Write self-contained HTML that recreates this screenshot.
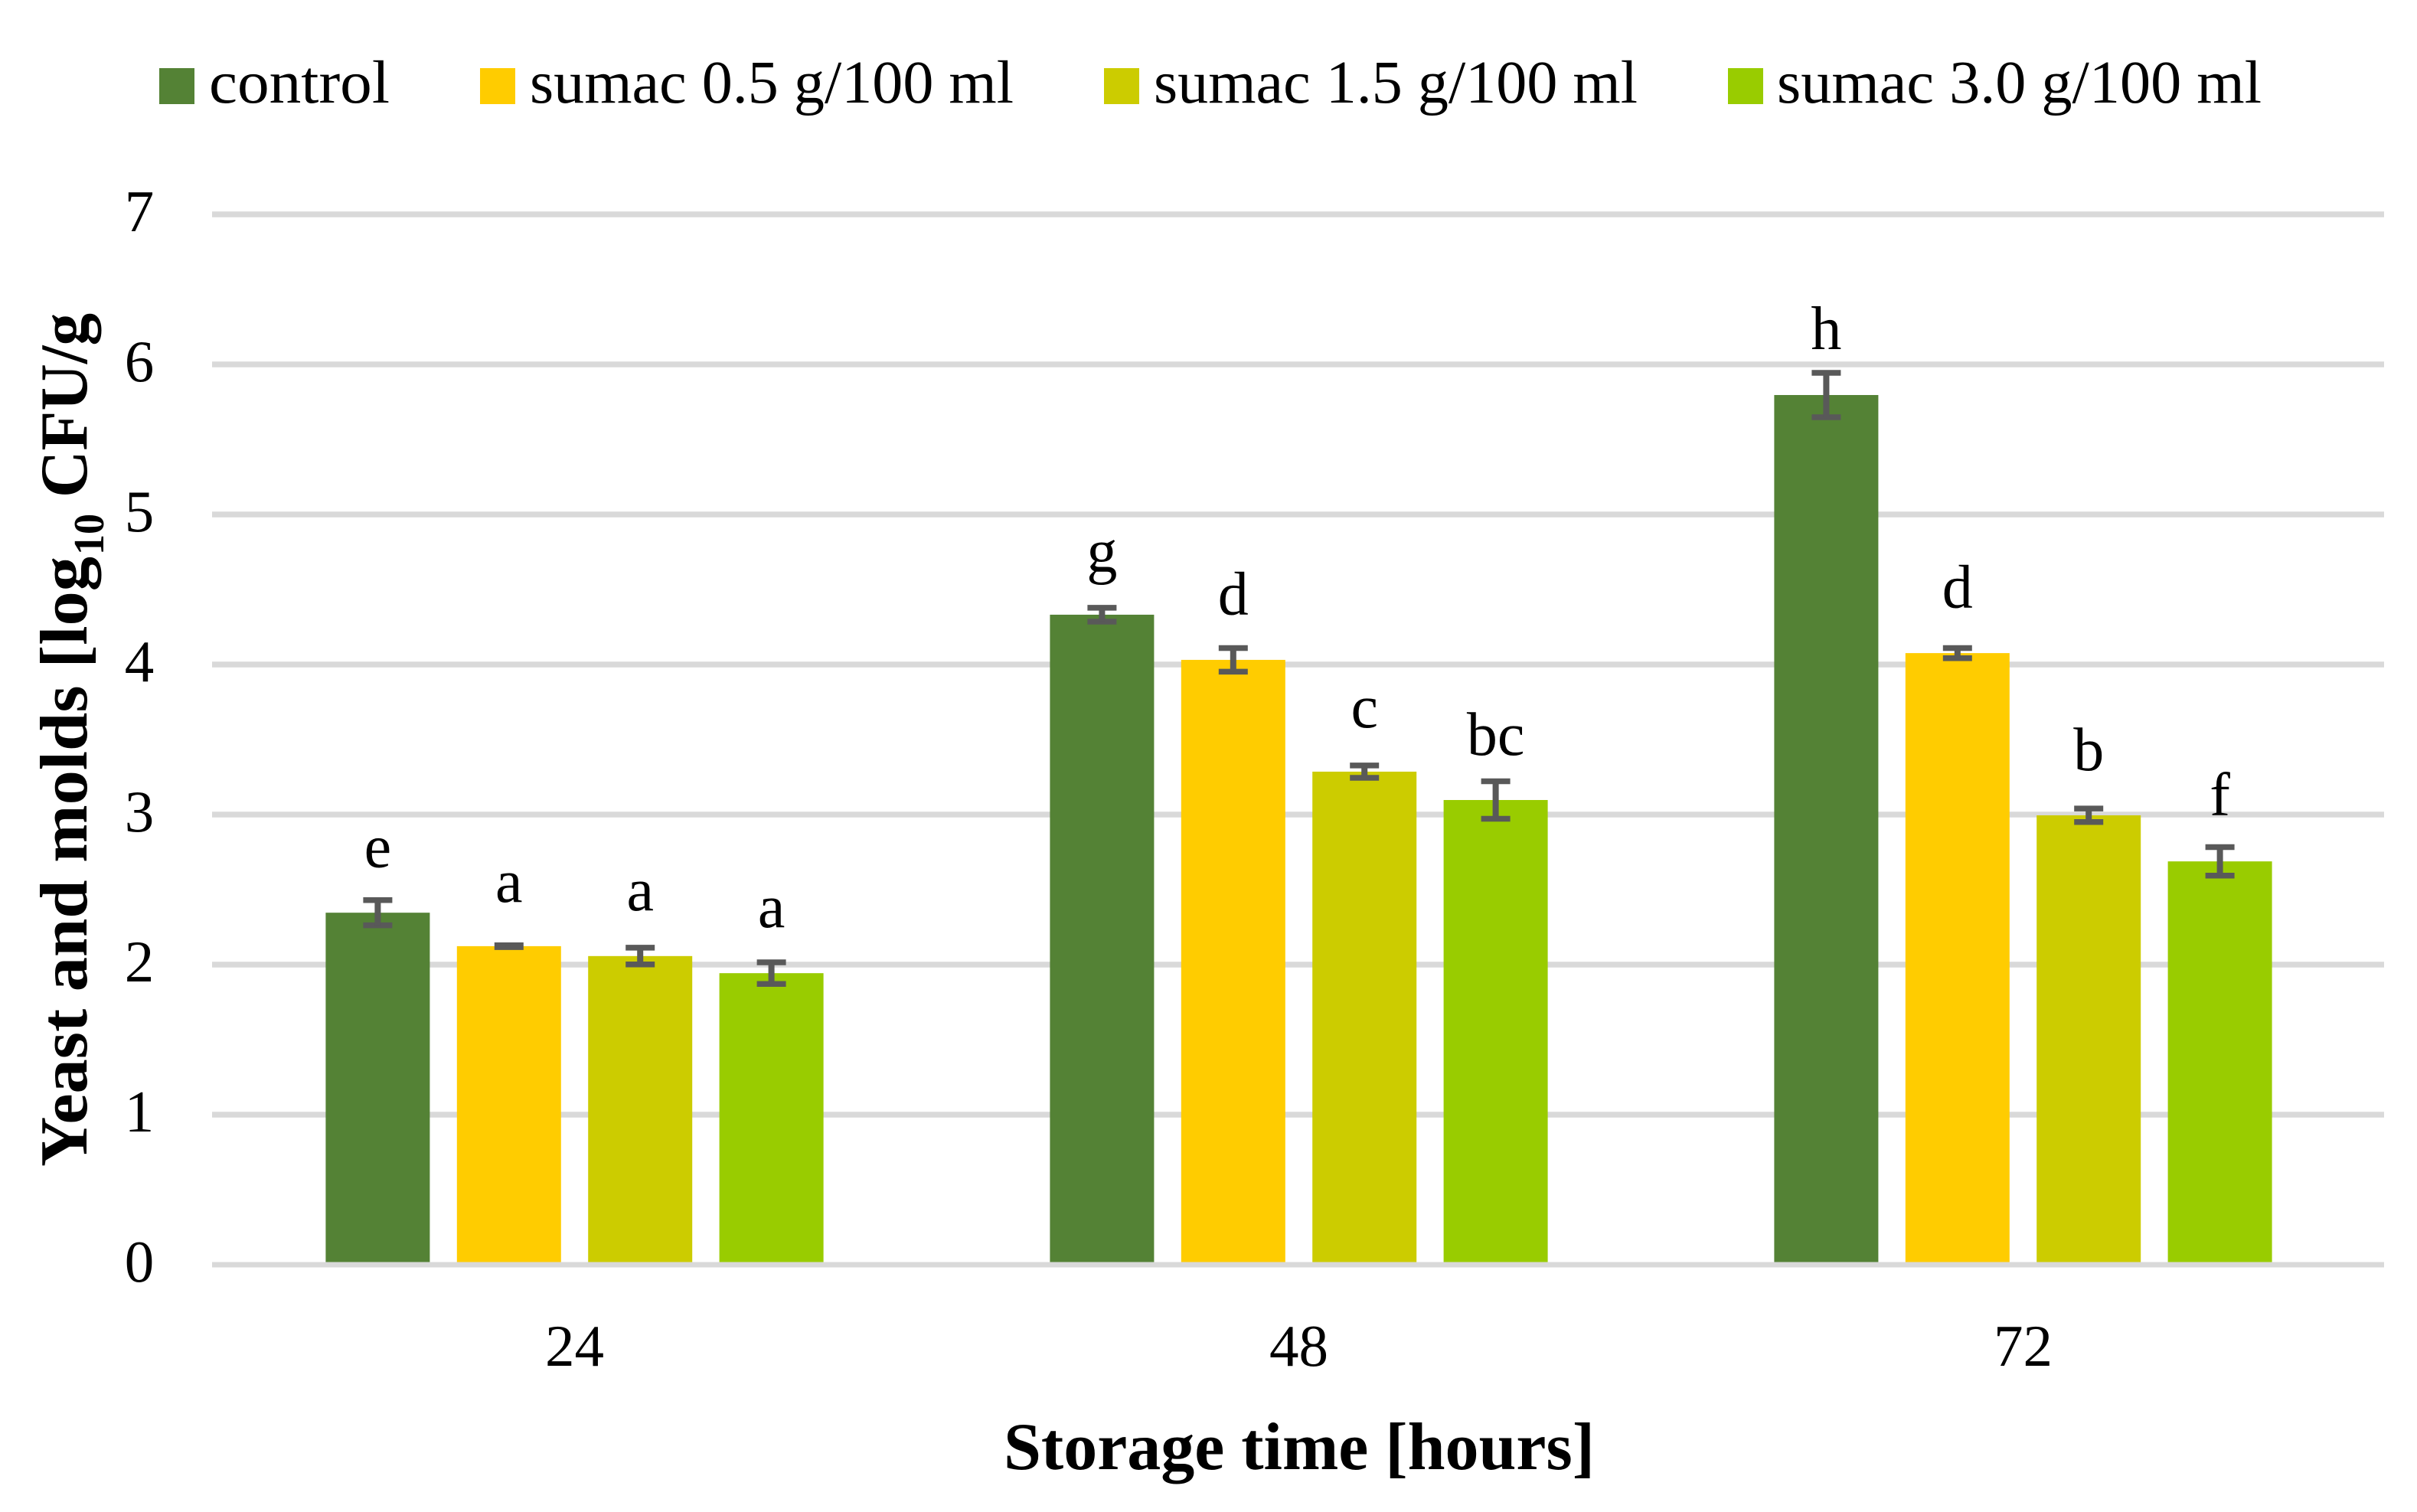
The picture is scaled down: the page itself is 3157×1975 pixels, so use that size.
<!DOCTYPE html>
<html lang="en">
<head>
<meta charset="utf-8">
<title>Yeast and molds during storage</title>
<style>
html,body{margin:0;padding:0;background:#fff;}
svg{display:block;}
text{font-family:"Liberation Serif","DejaVu Serif",serif;fill:#000;}
</style>
</head>
<body>
<svg id="chart" xmlns="http://www.w3.org/2000/svg" width="3157" height="1975" viewBox="0 0 3157 1975">
  <rect x="0" y="0" width="3157" height="1975" fill="#ffffff"/>
  <g>
    <g>
      <rect x="208" y="89" width="46" height="47" fill="#548235"/>
      <text x="273" y="134" font-size="79" textLength="236" lengthAdjust="spacingAndGlyphs">control</text>
    </g>
    <g>
      <rect x="627" y="89" width="46" height="47" fill="#FFCC00"/>
      <text x="692" y="134" font-size="79" textLength="632" lengthAdjust="spacingAndGlyphs">sumac 0.5 g/100 ml</text>
    </g>
    <g>
      <rect x="1442" y="89" width="46" height="47" fill="#CCCC00"/>
      <text x="1507" y="134" font-size="79" textLength="632" lengthAdjust="spacingAndGlyphs">sumac 1.5 g/100 ml</text>
    </g>
    <g>
      <rect x="2257" y="89" width="46" height="47" fill="#99CC00"/>
      <text x="2321" y="134" font-size="79" textLength="633" lengthAdjust="spacingAndGlyphs">sumac 3.0 g/100 ml</text>
    </g>
  </g>
  <g id="gridlines"></g>
  <g id="y-ticks"></g>
  <g id="bars"></g>
  <g id="baseline"></g>
  <g id="errors"></g>
  <g id="letters"></g>
  <g id="x-ticks"></g>
  <text x="1311" y="1919" font-size="88" font-weight="700" textLength="772" lengthAdjust="spacingAndGlyphs">Storage time [hours]</text>
  <g>
    <text transform="translate(113,1524) rotate(-90)" font-size="88" font-weight="700" textLength="797" lengthAdjust="spacingAndGlyphs">Yeast and molds [log</text>
    <text transform="translate(135,725) rotate(-90)" font-size="56" font-weight="700" textLength="54" lengthAdjust="spacingAndGlyphs">10</text>
    <text transform="translate(113,650) rotate(-90)" font-size="88" font-weight="700" textLength="241" lengthAdjust="spacingAndGlyphs">CFU/g</text>
  </g>
</svg>
<script>
const categories = ['24', '48', '72'];
const seriesNames = ['control', 'sumac-0-5', 'sumac-1-5', 'sumac-3-0'];
const seriesColors = ['#548235', '#FFCC00', '#CCCC00', '#99CC00'];
const controlValues = [2.346, 4.332, 5.796];
const sumac05Values = [2.123, 4.031, 4.076];
const sumac15Values = [2.057, 3.286, 2.995];
const sumac30Values = [1.943, 3.097, 2.688];
const controlErrors = [0.084, 0.046, 0.148];
const sumac05Errors = [0.006, 0.079, 0.034];
const sumac15Errors = [0.056, 0.041, 0.045];
const sumac30Errors = [0.072, 0.125, 0.095];
const controlLetters = ['e', 'g', 'h'];
const sumac05Letters = ['a', 'd', 'd'];
const sumac15Letters = ['a', 'c', 'b'];
const sumac30Letters = ['a', 'bc', 'f'];
const controlLetterGap = [0.220, 0.240, 0.158];
const sumac05LetterGap = [0.290, 0.225, 0.270];
const sumac15LetterGap = [0.250, 0.255, 0.255];
const sumac30LetterGap = [0.235, 0.176, 0.214];
const yTicks = [0, 1, 2, 3, 4, 5, 6, 7];

const allValues = [controlValues, sumac05Values, sumac15Values, sumac30Values];
const allErrors = [controlErrors, sumac05Errors, sumac15Errors, sumac30Errors];
const allLetters = [controlLetters, sumac05Letters, sumac15Letters, sumac30Letters];
const allGaps = [controlLetterGap, sumac05LetterGap, sumac15LetterGap, sumac30LetterGap];

const plotLeft = 277.5, plotRight = 3115.5, plotZero = 1652, unitHeight = 196;
const barWidth = 136, barPitch = 171.4, capWidth = 38;
const NS = 'http://www.w3.org/2000/svg';

function yScale(v) { return plotZero - v * unitHeight; }
function groupCenter(i) { return plotLeft + (plotRight - plotLeft) / categories.length * (i + 0.5); }
function seriesCenter(i, s) { return groupCenter(i) + (s - (seriesNames.length - 1) / 2) * barPitch; }
function make(tag, parentId, attrs) {
  const el = document.createElementNS(NS, tag);
  for (const k in attrs) el.setAttribute(k, attrs[k]);
  document.getElementById(parentId).appendChild(el);
  return el;
}

yTicks.forEach(function (t) {
  if (t !== 0) {
    const line = make('line', 'gridlines', { x1: 277, x2: 3114, y1: yScale(t), y2: yScale(t), stroke: '#D9D9D9', 'stroke-width': 7.5 });
    
    
  }
  const label = make('text', 'y-ticks', { x: 182, y: yScale(t) + 22, 'font-size': 77, 'text-anchor': 'middle' });
  label.textContent = String(t);
  
  
});

categories.forEach(function (cat, i) {
  const tick = make('text', 'x-ticks', { x: groupCenter(i), y: 1784, 'font-size': 77, 'text-anchor': 'middle' });
  tick.textContent = cat;
  
  

  seriesNames.forEach(function (name, s) {
    const v = allValues[s][i], e = allErrors[s][i];
    const cx = seriesCenter(i, s);

    const bar = make('rect', 'bars', { x: cx - barWidth / 2, y: yScale(v), width: barWidth, height: plotZero - yScale(v), fill: seriesColors[s] });
    
    

    const err = make('path', 'errors', {
      d: 'M' + (cx - capWidth / 2) + ' ' + yScale(v + e) + 'H' + (cx + capWidth / 2) +
         'M' + (cx - capWidth / 2) + ' ' + yScale(v - e) + 'H' + (cx + capWidth / 2),
      stroke: '#595959', 'stroke-width': 7.5, fill: 'none'
    });
    
    

    const stem = make('line', 'errors', { x1: cx, x2: cx, y1: yScale(v + e), y2: yScale(v - e), stroke: '#595959', 'stroke-width': 8 });
    
    

    const letter = make('text', 'letters', { x: cx, y: yScale(v + e + allGaps[s][i]), 'font-size': 80, 'text-anchor': 'middle' });
    letter.textContent = allLetters[s][i];
    
    
  });
});

const axisLine = make('line', 'baseline', { x1: 277, x2: 3114, y1: yScale(0), y2: yScale(0), stroke: '#D9D9D9', 'stroke-width': 7 });


</script>
</body>
</html>
